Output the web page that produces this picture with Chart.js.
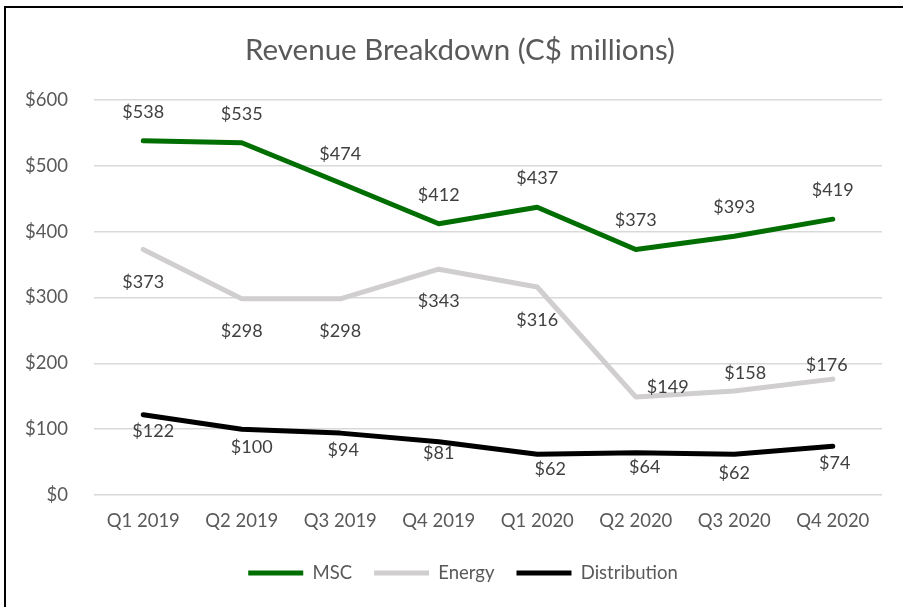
<!DOCTYPE html>
<html>
<head>
<meta charset="utf-8">
<title>Revenue Breakdown</title>
<script src="https://cdn.jsdelivr.net/npm/chart.js@4.4.1/dist/chart.umd.min.js"></script>
<style>
    html, body { margin: 0; padding: 0; background: #fff; overflow: hidden; }
    #marco {
        position: absolute; left: 4px; top: 6px; width: 1000px; height: 1000px;
        border: 2px solid #000; box-sizing: border-box;
    }
    #lienzo { position: absolute; left: 0; top: 0; }
</style>
</head>
<body>
<div id="marco"></div>
<canvas id="lienzo" width="903" height="607"></canvas>
<script>
// Datos del gráfico
const trimestres = ['Q1 2019', 'Q2 2019', 'Q3 2019', 'Q4 2019', 'Q1 2020', 'Q2 2020', 'Q3 2020', 'Q4 2020'];
const msc = [538, 535, 474, 412, 437, 373, 393, 419];
const energia = [373, 298, 298, 343, 316, 149, 158, 176];
const distribucion = [122, 100, 94, 81, 62, 64, 62, 74];
const ticksEje = [0, 100, 200, 300, 400, 500, 600];

const FUENTE = "Lato, 'Open Sans', sans-serif";

// Desplazamientos de las etiquetas de datos (como en el original)
const despMsc = msc.map(() => [0, -29]);
const despEnergia = [[0, 33], [0, 32], [0, 32], [0, 32], [0, 33], [32, -10], [11, -18], [-6, -14]];
const despDistribucion = [[10, 17], [10, 18], [3, 17], [0, 12], [13, 15], [9, 14], [0, 19], [2, 17]];

// Plugin sencillo para las etiquetas de datos
const etiquetasDatos = {
    id: 'etiquetasDatos',
    afterDatasetsDraw(chart) {
        const ctx = chart.ctx;
        ctx.save();
        ctx.font = '18px ' + FUENTE;
        ctx.fillStyle = '#404040';
        ctx.textAlign = 'center';
        ctx.textBaseline = 'middle';
        chart.data.datasets.forEach((ds, i) => {
            const meta = chart.getDatasetMeta(i);
            meta.data.forEach((pt, j) => {
                const d = ds.desplazamientos[j];
                ctx.fillText('$' + ds.data[j], pt.x + d[0], pt.y + d[1]);
            });
        });
        ctx.restore();
    }
};

// El gráfico original está recortado a la derecha: título y leyenda quedan algo desplazados
const desplazarCajas = {
    id: 'desplazarCajas',
    afterLayout(chart) {
        [[chart.titleBlock, 9], [chart.legend, 12]].forEach(([caja, dx]) => {
            if (!caja) return;
            caja.left += dx;
            caja.right += dx;
        });
    }
};

function serie(nombre, datos, color, desp) {
    return {
        label: nombre,
        data: datos,
        borderColor: color,
        backgroundColor: color,
        borderWidth: 5,
        borderCapStyle: 'round',
        borderJoinStyle: 'round',
        pointRadius: 0,
        tension: 0,
        desplazamientos: desp
    };
}

new Chart(document.getElementById('lienzo'), {
    type: 'line',
    data: {
        labels: trimestres,
        datasets: [
            serie('MSC', msc, '#006e00', despMsc),
            serie('Energy', energia, '#d0cece', despEnergia),
            serie('Distribution', distribucion, '#000000', despDistribucion)
        ]
    },
    plugins: [etiquetasDatos, desplazarCajas],
    options: {
        responsive: false,
        animation: false,
        layout: { padding: { left: 20, right: 21, top: 18, bottom: 14.75 } },
        plugins: {
            title: {
                display: true,
                text: 'Revenue Breakdown (C$ millions)',
                color: '#595959',
                font: { family: FUENTE, size: 29.5, weight: 'normal' },
                padding: { top: 14.3, bottom: 32.3 }
            },
            legend: {
                position: 'bottom',
                labels: {
                    usePointStyle: true,
                    pointStyle: 'line',
                    pointStyleWidth: 55,
                    boxHeight: 16,
                    color: '#595959',
                    padding: 22,
                    font: { family: FUENTE, size: 18.5 }
                }
            },
            tooltip: { enabled: false }
        },
        scales: {
            x: {
                offset: true,
                afterFit: (eje) => { eje.height = 46.75; },
                grid: { display: false, drawTicks: false },
                border: { display: false },
                ticks: {
                    color: '#595959',
                    padding: 15,
                    maxRotation: 0,
                    font: { family: FUENTE, size: 18.5 }
                }
            },
            y: {
                min: 0,
                max: 600,
                afterFit: (eje) => { eje.width = 74; },
                afterBuildTicks: (eje) => { eje.ticks = ticksEje.map(v => ({ value: v })); },
                grid: { color: '#d9d9d9', lineWidth: 1.5, drawTicks: false },
                border: { display: false },
                ticks: {
                    color: '#595959',
                    padding: 26,
                    font: { family: FUENTE, size: 18.5 },
                    callback: (v) => '$' + v
                }
            }
        }
    }
});
</script>
</body>
</html>
